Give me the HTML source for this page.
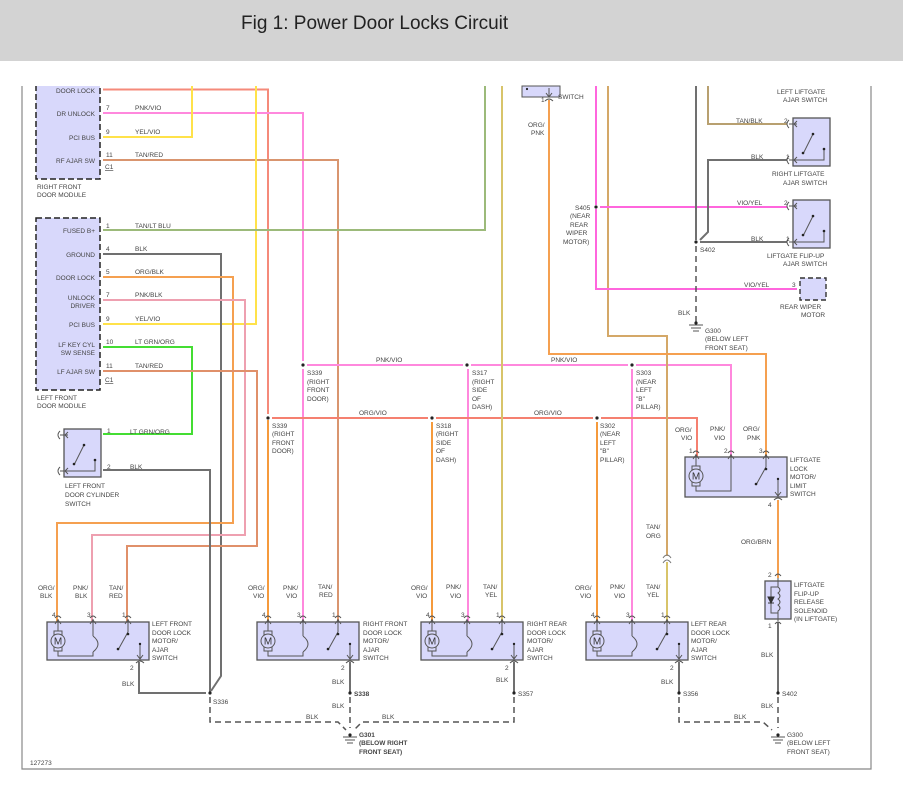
<!DOCTYPE html>
<html><head><meta charset="utf-8"><style>
html,body{margin:0;padding:0;background:#fff;width:903px;height:796px;overflow:hidden}
svg text{font-family:"Liberation Sans",Arial,sans-serif;fill:#444}
</style></head><body>
<svg width="903" height="796" viewBox="0 0 903 796" xmlns="http://www.w3.org/2000/svg">
<defs>
<g id="mb">
<rect x="0" y="0" width="102" height="38" fill="#d8d8fb" stroke="#555" stroke-width="1.3"/>
<path d="M11,-3 V10 M46,-3 V14 M81,-3 V10" stroke="#555" fill="none" stroke-width="1"/>
<path d="M8,2 L11,-2 L14,2 M43,2 L46,-2 L49,2 M78,2 L81,-2 L84,2" stroke="#555" fill="none"/>
<rect x="7" y="9" width="8" height="4" fill="#d8d8fb" stroke="#555"/>
<rect x="7" y="25" width="8" height="4" fill="#d8d8fb" stroke="#555"/>
<circle cx="11" cy="19" r="7" fill="#d8d8fb" stroke="#555"/>
<text x="11" y="22.5" font-size="10" text-anchor="middle" style="fill:#333">M</text>
<path d="M11,29 V34 H46 V30" stroke="#555" fill="none"/>
<path d="M46,14 Q56,22 46,30" stroke="#555" fill="none"/>
<path d="M81,10 L71,28" stroke="#555" fill="none"/>
<circle cx="81" cy="12" r="1.3" fill="#222"/><circle cx="71" cy="27" r="1.3" fill="#222"/>
<path d="M93,22 V36 M90,33 L93,37 L96,33" stroke="#555" fill="none"/>
<circle cx="93" cy="22" r="1.2" fill="#222"/>
<path d="M89,41 Q93,37 97,41 M8,-4 Q11,-8 14,-4 M43,-4 Q46,-8 49,-4 M78,-4 Q81,-8 84,-4" stroke="#555" fill="none"/>
</g>
<g id="sw">
<rect x="0" y="0" width="37" height="48" fill="#d8d8fb" stroke="#555" stroke-width="1.3"/>
<path d="M-4,6 H4 M-4,42 H31 V32" stroke="#555" fill="none"/>
<path d="M20,16 L10,36" stroke="#555" fill="none"/>
<circle cx="20" cy="16" r="1.3" fill="#222"/><circle cx="10" cy="35" r="1.3" fill="#222"/><circle cx="31" cy="31" r="1.3" fill="#222"/>
<path d="M4,3 L1,6 L4,9 M4,39 L1,42 L4,45 M-4,2 Q-8,6 -4,10 M-4,38 Q-8,42 -4,46" stroke="#555" fill="none"/>
</g>
</defs>

<rect x="0" y="0" width="903" height="61" fill="#d3d3d3"/>
<text x="241" y="29" font-size="19" style="fill:#222">Fig 1: Power Door Locks Circuit</text>

<path d="M22,86 V769 H871 V86" stroke="#888" fill="none" stroke-width="1.2"/>

<rect x="36" y="80" width="64" height="99" fill="#d8d8fb" stroke="#222" stroke-width="1.5" stroke-dasharray="6,3"/>
<rect x="36" y="218" width="64" height="172" fill="#d8d8fb" stroke="#222" stroke-width="1.5" stroke-dasharray="6,3"/>
<rect x="0" y="62" width="903" height="24" fill="#fff"/>
<g font-size="6.5" text-anchor="end">
<text x="95" y="93">DOOR LOCK</text><text x="95" y="116">DR UNLOCK</text><text x="95" y="140">PCI BUS</text><text x="95" y="163">RF AJAR SW</text>
<text x="95" y="233">FUSED B+</text><text x="95" y="257">GROUND</text><text x="95" y="280">DOOR LOCK</text>
<text x="95" y="300">UNLOCK</text><text x="95" y="308">DRIVER</text><text x="95" y="327">PCI BUS</text>
<text x="95" y="347">LF KEY CYL</text><text x="95" y="355">SW SENSE</text><text x="95" y="374">LF AJAR SW</text>
</g>
<g font-size="6.5">
<text x="37" y="189">RIGHT FRONT</text><text x="37" y="197">DOOR MODULE</text>
<text x="37" y="400">LEFT FRONT</text><text x="37" y="408">DOOR MODULE</text>
<text x="105" y="169" text-decoration="underline">C1</text><text x="105" y="382" text-decoration="underline">C1</text>
<text x="106" y="110">7</text><text x="106" y="134">9</text><text x="106" y="157">11</text>
<text x="106" y="228">1</text><text x="106" y="251">4</text><text x="106" y="274">5</text><text x="106" y="297">7</text><text x="106" y="321">9</text><text x="106" y="344">10</text><text x="106" y="368">11</text>
<text x="135" y="110">PNK/VIO</text><text x="135" y="134">YEL/VIO</text><text x="135" y="157">TAN/RED</text>
<text x="135" y="228">TAN/LT BLU</text><text x="135" y="251">BLK</text><text x="135" y="274">ORG/BLK</text><text x="135" y="297">PNK/BLK</text><text x="135" y="321">YEL/VIO</text><text x="135" y="344">LT GRN/ORG</text><text x="135" y="368">TAN/RED</text>
</g>

<g fill="none" stroke-width="2">
<path d="M103,89.5 H268 V414" stroke="#f58a7a"/>
<path d="M268,420 V622" stroke="#f59a3c"/>
<path d="M103,113 H303 V361" stroke="#ff88dd"/>
<path d="M303,369 V622" stroke="#ff88dd"/>
<path d="M103,137 H192 V86" stroke="#ffe24a"/>
<path d="M103,160 H338 V622" stroke="#d9956f"/>
<path d="M256,86 V324 H103" stroke="#ffe24a"/>
<path d="M103,230 H485 V86" stroke="#9cba7a"/>
<path d="M103,254 H221 V676 L211,691" stroke="#707070"/>
<path d="M103,277 H233 V523 H57 V622" stroke="#f5a050"/>
<path d="M103,300 H245 V535 H92 V622" stroke="#eea0b0"/>
<path d="M103,347 H192 V434 H103" stroke="#44dd33"/>
<path d="M103,371 H257 V546 H127 V622" stroke="#e0906a"/>
<path d="M103,470 H210 V693" stroke="#707070"/>
<path d="M307,365 H463 M471,365 H628 M636,365 H731 V457" stroke="#ff88dd"/>
<path d="M468,369 V622 M632,369 V622" stroke="#ff88dd"/>
<path d="M272,418 H428 M436,418 H593 M601,418 H697 V457" stroke="#f58070"/>
<path d="M432,422 V622 M597,422 V622" stroke="#f59a3c"/>
<path d="M502,86 V622" stroke="#d8c46a"/>
<path d="M608,86 V336 H667 V556" stroke="#d4a868"/>
<path d="M667,562 V622" stroke="#d8c46a"/>
<path d="M549,100 V354 H766 V457" stroke="#f5a050"/>
<path d="M596,86 V205 M596,209 V289 H797 M600,207 H787" stroke="#ff66dd"/>
<path d="M708,86 V124 H787" stroke="#b8a070"/>
<path d="M787,160 H708 V232 L700,240" stroke="#707070"/>
<path d="M696,86 V240 M700,242 H787" stroke="#707070"/>
<path d="M778,500 V578" stroke="#f5a050"/>
<path d="M778,622 V693 M350,662 V693 M139,662 V693 H206 M514,662 V693 M679,662 V693" stroke="#707070"/>
</g>
<path d="M663,558 Q667,552 671,558 M663,563 Q667,557 671,563" stroke="#777" fill="none"/>

<g fill="none" stroke="#555" stroke-width="1.5" stroke-dasharray="6,4">
<path d="M696,246 V322"/>
<path d="M210,697 V722 H338 L346,730"/>
<path d="M514,697 V722 H362 L354,730"/>
<path d="M350,697 V728"/>
<path d="M679,697 V722 H763 L772,730"/>
<path d="M778,697 V728"/>
</g>
<g stroke="#555">
<path d="M343,737 H357 M345,740 H355 M347,743 H353"/>
<path d="M771,737 H785 M773,740 H783 M775,743 H781"/>
<path d="M689,325 H703 M691,328 H701 M693,331 H699"/>
</g>
<g fill="#222">
<circle cx="350" cy="735" r="1.6"/><circle cx="778" cy="735" r="1.6"/><circle cx="696" cy="323" r="1.6"/>
<circle cx="210" cy="693" r="1.6"/><circle cx="350" cy="693" r="1.6"/><circle cx="514" cy="693" r="1.6"/><circle cx="679" cy="693" r="1.6"/><circle cx="778" cy="693" r="1.6"/>
<circle cx="303" cy="365" r="1.6"/><circle cx="467" cy="365" r="1.6"/><circle cx="632" cy="365" r="1.6"/>
<circle cx="268" cy="418" r="1.6"/><circle cx="432" cy="418" r="1.6"/><circle cx="597" cy="418" r="1.6"/>
<circle cx="596" cy="207" r="1.6"/><circle cx="696" cy="242" r="1.6"/>
</g>

<use href="#mb" x="47" y="622"/>
<use href="#mb" x="257" y="622"/>
<use href="#mb" x="421" y="622"/>
<use href="#mb" x="586" y="622"/>
<use href="#sw" x="64" y="429"/>
<use href="#sw" x="793" y="118"/>
<use href="#sw" x="793" y="200"/>
<rect x="800" y="278" width="26" height="22" fill="#d8d8fb" stroke="#333" stroke-width="1.4" stroke-dasharray="5,3"/>
<rect x="522" y="86" width="38" height="11" fill="#d8d8fb" stroke="#555"/>
<circle cx="527" cy="89" r="1.1" fill="#222"/><path d="M549,88 V96 M546,93 L549,97 L552,93 M545,101 Q549,97 553,101" stroke="#555" fill="none"/>
<g transform="translate(685,457)">
<rect x="0" y="0" width="102" height="40" fill="#d8d8fb" stroke="#555" stroke-width="1.3"/>
<path d="M11,-3 V10 M46,-3 V34 H18 M81,-3 V10 M8,2 L11,-2 L14,2 M43,2 L46,-2 L49,2 M78,2 L81,-2 L84,2" stroke="#555" fill="none"/>
<rect x="7" y="9" width="8" height="4" fill="#d8d8fb" stroke="#555"/><rect x="7" y="25" width="8" height="4" fill="#d8d8fb" stroke="#555"/>
<path d="M11,29 V34 H18" stroke="#555" fill="none"/>
<circle cx="11" cy="19" r="7" fill="#d8d8fb" stroke="#555"/><text x="11" y="22.5" font-size="10" text-anchor="middle" style="fill:#333">M</text>
<path d="M81,10 L71,28" stroke="#555"/><circle cx="81" cy="12" r="1.3" fill="#222"/><circle cx="71" cy="27" r="1.3" fill="#222"/>
<path d="M93,22 V38 M90,35 L93,39 L96,35 M89,43 Q93,39 97,43 M8,-4 Q11,-8 14,-4 M43,-4 Q46,-8 49,-4 M78,-4 Q81,-8 84,-4" stroke="#555" fill="none"/>
<circle cx="93" cy="22" r="1.2" fill="#222"/>
</g>
<g transform="translate(765,581)">
<rect x="0" y="0" width="26" height="38" fill="#d8d8fb" stroke="#555" stroke-width="1.3"/>
<path d="M13,-3 V6 H6 V32 H13 V40 M13,6 Q17,9 13,12 Q17,15 13,18 Q17,21 13,24 Q17,27 13,30 V32 M10,-5 Q13,-9 16,-5 M10,43 Q13,39 16,43" stroke="#555" fill="none"/>
<path d="M3,22 H9 M3,16 L6,22 L9,16 Z" stroke="#333" fill="#333"/>
</g>

<g font-size="6.5">
<text x="65" y="488">LEFT FRONT</text><text x="65" y="497">DOOR CYLINDER</text><text x="65" y="506">SWITCH</text>
<text x="107" y="433">1</text><text x="107" y="469">2</text><text x="130" y="434">LT GRN/ORG</text><text x="130" y="469">BLK</text>
<text x="38" y="590">ORG/</text><text x="40" y="598">BLK</text><text x="73" y="590">PNK/</text><text x="75" y="598">BLK</text><text x="109" y="590">TAN/</text><text x="109" y="598">RED</text>
<text x="248" y="590">ORG/</text><text x="253" y="598">VIO</text><text x="283" y="590">PNK/</text><text x="286" y="598">VIO</text><text x="318" y="589">TAN/</text><text x="319" y="597">RED</text>
<text x="411" y="590">ORG/</text><text x="416" y="598">VIO</text><text x="446" y="589">PNK/</text><text x="450" y="598">VIO</text><text x="483" y="589">TAN/</text><text x="485" y="597">YEL</text>
<text x="575" y="590">ORG/</text><text x="580" y="598">VIO</text><text x="610" y="589">PNK/</text><text x="614" y="598">VIO</text><text x="646" y="589">TAN/</text><text x="647" y="597">YEL</text>
<text x="646" y="529">TAN/</text><text x="646" y="538">ORG</text>
<text x="675" y="432">ORG/</text><text x="681" y="440">VIO</text><text x="710" y="431">PNK/</text><text x="714" y="440">VIO</text><text x="743" y="431">ORG/</text><text x="747" y="440">PNK</text>
<text x="741" y="544">ORG/BRN</text>
<text x="52" y="617">4</text><text x="87" y="617">3</text><text x="122" y="617">1</text>
<text x="262" y="617">4</text><text x="297" y="617">3</text><text x="332" y="617">1</text>
<text x="426" y="617">4</text><text x="461" y="617">3</text><text x="496" y="617">1</text>
<text x="591" y="617">4</text><text x="626" y="617">3</text><text x="661" y="617">1</text>
<text x="689" y="453">1</text><text x="724" y="453">2</text><text x="759" y="453">3</text><text x="768" y="507">4</text>
<text x="768" y="577">2</text><text x="768" y="628">1</text>
<text x="130" y="670">2</text><text x="341" y="670">2</text><text x="505" y="670">2</text><text x="670" y="670">2</text>
<text x="152" y="626">LEFT FRONT</text><text x="152" y="635">DOOR LOCK</text><text x="152" y="643">MOTOR/</text><text x="152" y="652">AJAR</text><text x="152" y="660">SWITCH</text>
<text x="363" y="626">RIGHT FRONT</text><text x="363" y="635">DOOR LOCK</text><text x="363" y="643">MOTOR/</text><text x="363" y="652">AJAR</text><text x="363" y="660">SWITCH</text>
<text x="527" y="626">RIGHT REAR</text><text x="527" y="635">DOOR LOCK</text><text x="527" y="643">MOTOR/</text><text x="527" y="652">AJAR</text><text x="527" y="660">SWITCH</text>
<text x="691" y="626">LEFT REAR</text><text x="691" y="635">DOOR LOCK</text><text x="691" y="643">MOTOR/</text><text x="691" y="652">AJAR</text><text x="691" y="660">SWITCH</text>
<text x="790" y="462">LIFTGATE</text><text x="790" y="471">LOCK</text><text x="790" y="479">MOTOR/</text><text x="790" y="488">LIMIT</text><text x="790" y="496">SWITCH</text>
<text x="794" y="587">LIFTGATE</text><text x="794" y="596">FLIP-UP</text><text x="794" y="604">RELEASE</text><text x="794" y="613">SOLENOID</text><text x="794" y="621">(IN LIFTGATE)</text>
<text x="122" y="686">BLK</text><text x="332" y="684">BLK</text><text x="332" y="708">BLK</text><text x="306" y="719">BLK</text><text x="382" y="719">BLK</text>
<text x="496" y="682">BLK</text><text x="661" y="684">BLK</text><text x="761" y="657">BLK</text><text x="761" y="708">BLK</text><text x="734" y="719">BLK</text>
<text x="213" y="704">S336</text><text x="354" y="696" font-weight="bold">S338</text><text x="518" y="696">S357</text><text x="683" y="696">S356</text><text x="782" y="696">S402</text>
<text x="359" y="737" font-weight="bold">G301</text><text x="359" y="745" font-weight="bold">(BELOW RIGHT</text><text x="359" y="754" font-weight="bold">FRONT SEAT)</text>
<text x="787" y="737">G300</text><text x="787" y="745">(BELOW LEFT</text><text x="787" y="754">FRONT SEAT)</text>
<text x="30" y="765">127273</text>
<text x="376" y="362">PNK/VIO</text><text x="551" y="362">PNK/VIO</text>
<text x="359" y="415">ORG/VIO</text><text x="534" y="415">ORG/VIO</text>
<text x="307" y="375">S339</text><text x="307" y="384">(RIGHT</text><text x="307" y="392">FRONT</text><text x="307" y="401">DOOR)</text>
<text x="472" y="375">S317</text><text x="472" y="384">(RIGHT</text><text x="472" y="392">SIDE</text><text x="472" y="401">OF</text><text x="472" y="409">DASH)</text>
<text x="636" y="375">S303</text><text x="636" y="384">(NEAR</text><text x="636" y="392">LEFT</text><text x="636" y="401">"B"</text><text x="636" y="409">PILLAR)</text>
<text x="272" y="428">S339</text><text x="272" y="436">(RIGHT</text><text x="272" y="445">FRONT</text><text x="272" y="453">DOOR)</text>
<text x="436" y="428">S318</text><text x="436" y="436">(RIGHT</text><text x="436" y="445">SIDE</text><text x="436" y="453">OF</text><text x="436" y="462">DASH)</text>
<text x="600" y="428">S302</text><text x="600" y="436">(NEAR</text><text x="600" y="445">LEFT</text><text x="600" y="453">"B"</text><text x="600" y="462">PILLAR)</text>
<text x="558" y="99">SWITCH</text><text x="541" y="102">1</text>
<text x="528" y="127">ORG/</text><text x="531" y="135">PNK</text>
<text x="575" y="210">S405</text><text x="570" y="218">(NEAR</text><text x="570" y="227">REAR</text><text x="566" y="235">WIPER</text><text x="563" y="244">MOTOR)</text>
<text x="777" y="94">LEFT LIFTGATE</text><text x="783" y="102">AJAR SWITCH</text>
<text x="736" y="123">TAN/BLK</text><text x="784" y="123">2</text><text x="751" y="159">BLK</text><text x="786" y="159">1</text>
<text x="772" y="176">RIGHT LIFTGATE</text><text x="783" y="185">AJAR SWITCH</text>
<text x="737" y="205">VIO/YEL</text><text x="784" y="205">2</text><text x="751" y="241">BLK</text><text x="786" y="241">1</text>
<text x="700" y="252">S402</text>
<text x="767" y="258">LIFTGATE FLIP-UP</text><text x="783" y="266">AJAR SWITCH</text>
<text x="744" y="287">VIO/YEL</text><text x="792" y="287">3</text>
<text x="780" y="309">REAR WIPER</text><text x="801" y="317">MOTOR</text>
<text x="678" y="315">BLK</text>
<text x="705" y="333">G300</text><text x="705" y="341">(BELOW LEFT</text><text x="705" y="350">FRONT SEAT)</text>
</g>
</svg>
</body></html>
